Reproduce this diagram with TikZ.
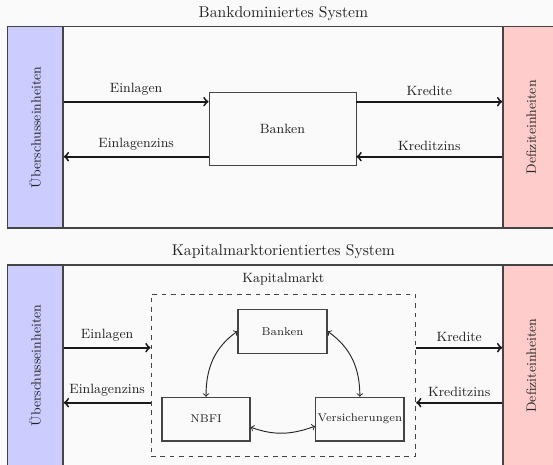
\documentclass[tikz,border=0pt]{standalone}
\usetikzlibrary{fit,calc}
\definecolor{bgc}{HTML}{FAFAFA}
\definecolor{blu}{HTML}{CCCCFF}
\definecolor{pnk}{HTML}{FFCCCC}
\definecolor{ln}{HTML}{444444}
\definecolor{txt}{HTML}{222222}
\begin{document}
\begin{tikzpicture}[x=0.6394pt,y=-0.6394pt,
  frame/.style={draw=ln, line width=0.8pt, inner sep=0pt},
  strip/.style={draw=ln, line width=1pt, inner sep=0pt},
  titl/.style={font=\fontsize{10}{12}\selectfont, text=txt},
  lbl/.style={font=\fontsize{8.6}{10}\selectfont, text=txt},
  small/.style={font=\fontsize{7.2}{9}\selectfont, text=txt},
  bigbox/.style={draw=ln, line width=0.6pt, inner sep=0pt},
  smbox/.style={draw=ln, line width=0.7pt, inner sep=0pt},
  kmbox/.style={draw=ln, line width=0.6pt, dashed, inner sep=0pt},
  flow/.style={->, line width=1.2pt, draw=black!90},
  link/.style={<->, line width=0.6pt, draw=black!85}]
\useasboundingbox (0,0) rectangle (553,465);
\clip (0,0) rectangle (553,465);
\fill[bgc] (0,0) rectangle (553,465);

% ---------- top panel ----------
\node[frame, fit={(7.3,26.7) (559.5,228)}, label={[titl]above:Bankdominiertes System}] (f1) {};
\node[strip, fill=blu, fit={(7.3,26.7) (63,228)}] (ue1) {};
\node[lbl, rotate=90] (ue1t) at (ue1.center) {Überschusseinheiten};
\node[strip, fill=pnk, fit={(503,26.7) (559.5,228)}] (de1) {};
\node[lbl, rotate=90] (de1t) at (de1.center) {Defiziteinheiten};
\node[bigbox, fit={(209,92.5) (356,165.7)}] (b1) {};
\node[lbl] (b1t) at (b1.center) {Banken};
\coordinate (r1) at (0,101.7);
\coordinate (r2) at (0,156.7);
\draw[flow] (ue1.east |- r1) -- node[above, lbl] {Einlagen} (b1.west |- r1);
\draw[flow] (b1.west |- r2) -- node[above, lbl] {Einlagenzins} (ue1.east |- r2);
\draw[flow] (b1.east |- r1) -- node[above, lbl] {Kredite} (de1.west |- r1);
\draw[flow] (de1.west |- r2) -- node[above, lbl] {Kreditzins} (b1.east |- r2);

% ---------- bottom panel ----------
\node[frame, fit={(7.3,265) (559.5,466)}, label={[titl]above:Kapitalmarktorientiertes System}] (f2) {};
\node[strip, fill=blu, fit={(7.3,265) (63,466)}] (ue2) {};
\node[lbl, rotate=90] (ue2t) at (ue2.center) {Überschusseinheiten};
\node[strip, fill=pnk, fit={(503,265) (559.5,466)}] (de2) {};
\node[lbl, rotate=90] (de2t) at (de2.center) {Defiziteinheiten};
\node[kmbox, fit={(151,294.3) (415.7,456)}, label={[lbl, label distance=2pt]above:Kapitalmarkt}] (km) {};
\node[smbox, fit={(238,309.3) (327,353.3)}] (b2) {};
\node[small] (b2t) at (b2.center) {Banken};
\node[smbox, fit={(162,397.3) (250,441)}] (nb) {};
\node[small] (nbt) at (nb.center) {NBFI};
\node[smbox, fit={(315.7,397.3) (404,441)}] (vs) {};
\node[small] (vst) at (vs.center) {Versicherungen};
\coordinate (r3) at (0,347.7);
\coordinate (r4) at (0,402.7);
\draw[flow] (ue2.east |- r3) -- node[above, lbl] {Einlagen} (km.west |- r3);
\draw[flow] (km.west |- r4) -- node[above, lbl] {Einlagenzins} (ue2.east |- r4);
\draw[flow] (km.east |- r3) -- node[above, lbl] {Kredite} (de2.west |- r3);
\draw[flow] (de2.west |- r4) -- node[above, lbl] {Kreditzins} (km.east |- r4);
\draw[link] (b2.west) to[out=215, in=90] (nb.north);
\draw[link] (b2.east) to[out=-35, in=90] (vs.north);
\draw[link] ($(nb.east)+(0,8)$) to[out=-20, in=200] ($(vs.west)+(0,7)$);
\end{tikzpicture}
\end{document}
